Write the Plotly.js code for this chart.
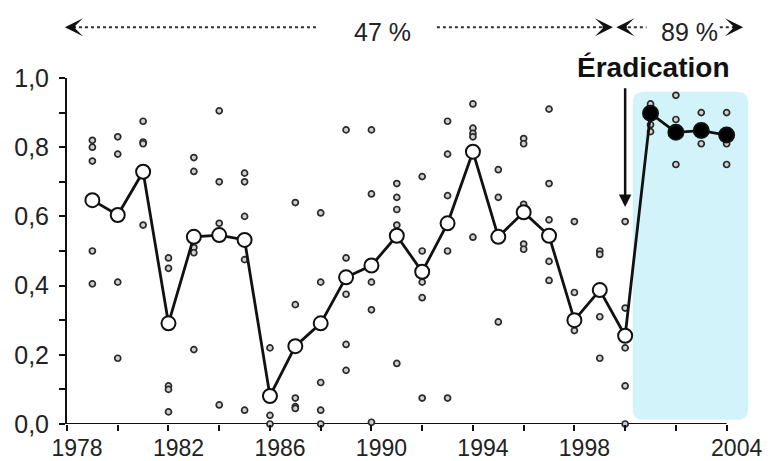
<!DOCTYPE html>
<html>
<head>
<meta charset="utf-8">
<script src="https://cdn.plot.ly/plotly-3.0.1.min.js"></script>
<style>html,body{margin:0;padding:0;background:#fff;}#chart{width:769px;height:461px;}</style>
</head>
<body>
<div id="chart"></div>
<script>
// ---- data ----
const years = [1979,1980,1981,1982,1983,1984,1985,1986,1987,1988,1989,1990,1991,1992,1993,1994,1995,1996,1997,1998,1999,2000,2001,2002,2003,2004];
const means = [0.647,0.604,0.729,0.291,0.541,0.546,0.532,0.081,0.225,0.291,0.424,0.458,0.544,0.440,0.580,0.787,0.541,0.612,0.544,0.300,0.387,0.255,0.898,0.843,0.848,0.835];
const observations = [
  [0.82,0.80,0.76,0.50,0.405],
  [0.83,0.78,0.41,0.19],
  [0.875,0.815,0.81,0.575],
  [0.48,0.45,0.11,0.10,0.035],
  [0.77,0.73,0.51,0.495,0.215],
  [0.905,0.70,0.58,0.055],
  [0.725,0.70,0.60,0.475,0.04],
  [0.22,0.025,0.0],
  [0.64,0.345,0.075,0.05,0.045],
  [0.61,0.41,0.12,0.04,0.0],
  [0.85,0.48,0.375,0.23,0.155],
  [0.85,0.665,0.41,0.33,0.005],
  [0.695,0.655,0.62,0.575,0.175],
  [0.715,0.50,0.41,0.365,0.075],
  [0.875,0.78,0.66,0.50,0.075],
  [0.925,0.855,0.84,0.83,0.54],
  [0.735,0.655,0.295],
  [0.825,0.81,0.635,0.52,0.505],
  [0.91,0.695,0.59,0.47,0.415],
  [0.585,0.38,0.27],
  [0.50,0.49,0.31,0.19],
  [0.585,0.335,0.22,0.11,0.0],
  [0.925,0.865,0.845],
  [0.95,0.88,0.75],
  [0.90,0.81],
  [0.90,0.81,0.75]
];
const eradicationYear = 2000;
const xTickVals = [1978,1980,1982,1984,1986,1988,1990,1992,1994,1996,1998,2000,2002,2004];
const xTickText = ['1978','','1982','','1986','','1990','','1994','','1998','','','2004'];
const yTickVals = [0,0.1,0.2,0.3,0.4,0.5,0.6,0.7,0.8,0.9,1.0];
const yTickText = ['0,0','','0,2','','0,4','','0,6','','0,8','','1,0'];
const beforeLabel = '47 %';
const afterLabel = '89 %';
const eventLabel = 'Éradication';

// ---- build traces ----
const obsX = [], obsY = [];
observations.forEach((vals, i) => vals.forEach(v => { obsX.push(years[i]); obsY.push(v); }));

const FONT = 'Liberation Sans, Arial, sans-serif';

const traces = [
  {
    x: obsX, y: obsY, type: 'scatter', mode: 'markers', cliponaxis: false,
    marker: {size: 6, opacity: 1, color: '#d0d0d0', line: {color: '#2a2a2a', width: 1.7}},
    hoverinfo: 'skip', showlegend: false
  },
  {
    x: years, y: means, type: 'scatter', mode: 'lines', cliponaxis: false,
    line: {color: '#111111', width: 2.8},
    hoverinfo: 'skip', showlegend: false
  },
  {
    x: years, y: means, type: 'scatter', mode: 'markers', cliponaxis: false,
    marker: {
      size: years.map(y => y > eradicationYear ? 15 : 14),
      opacity: 1,
      color: years.map(y => y > eradicationYear ? '#000000' : '#ffffff'),
      line: {color: '#111111', width: 2}
    },
    hoverinfo: 'skip', showlegend: false
  }
];

// rounded shaded region after eradication
const x0 = 2000.3, x1 = 2004.85, y0 = 0.012, y1 = 0.96, rx = 0.45, ry = 0.033;
const shadePath = `M ${x0+rx},${y0} L ${x1-rx},${y0} Q ${x1},${y0} ${x1},${y0+ry} L ${x1},${y1-ry} Q ${x1},${y1} ${x1-rx},${y1} L ${x0+rx},${y1} Q ${x0},${y1} ${x0},${y1-ry} L ${x0},${y0+ry} Q ${x0},${y0} ${x0+rx},${y0} Z`;

const arrowY = 1.147;
const dotLine = (xa, xb) => ({type: 'line', xref: 'paper', yref: 'paper', x0: xa, x1: xb, y0: arrowY, y1: arrowY,
  line: {color: '#333333', width: 2, dash: 'dot'}});
const head = (x, dir) => ({xref: 'paper', yref: 'paper', x: x, y: arrowY, ax: -dir*12, ay: 0, text: '',
  showarrow: true, arrowhead: 3, arrowsize: 1.5, arrowwidth: 2, arrowcolor: '#111'});
const label = (x, y, txt, size, color) => ({xref: 'paper', yref: 'paper', x: x, y: y, xanchor: 'center', yanchor: 'middle',
  text: txt, showarrow: false, font: {family: FONT, size: size, color: color}});

const layout = {
  width: 769, height: 461,
  margin: {l: 67, r: 16.5, t: 78, b: 37, pad: 0},
  paper_bgcolor: '#ffffff', plot_bgcolor: '#ffffff',
  font: {family: FONT, color: '#222222', size: 25},
  xaxis: {
    range: [1978, 2005], showgrid: false, zeroline: false, showline: false,
    tickvals: xTickVals, ticktext: xTickText, ticks: 'outside', ticklen: 6, tickwidth: 2, tickcolor: '#111',
    tickfont: {family: FONT, size: 23, color: '#222'}, ticklabelshift: 10, ticklabelstandoff: -3, fixedrange: true
  },
  yaxis: {
    range: [0, 1], showgrid: false, zeroline: false, showline: true, linecolor: '#111', linewidth: 2,
    tickvals: yTickVals, ticktext: yTickText, ticks: 'outside', ticklen: 6, tickwidth: 2, tickcolor: '#111',
    tickfont: {family: FONT, size: 25, color: '#222'}, ticklabelstandoff: 5, fixedrange: true
  },
  shapes: [
    {type: 'path', xref: 'x', yref: 'y', path: shadePath, fillcolor: '#d3f3fb', line: {width: 0}, layer: 'below'},
    {type: 'line', xref: 'x', yref: 'y', x0: 1978, x1: 2004, y0: 0, y1: 0, line: {color: '#111', width: 2}, layer: 'below'},
    dotLine(0.0, 0.365),
    dotLine(0.54, 0.79),
    dotLine(0.81, 0.846),
    dotLine(0.953, 0.978)
  ],
  annotations: [
    head(-0.003, -1),
    head(0.797, 1),
    head(0.802, -1),
    head(0.987, 1),
    label(0.461, 1.133, beforeLabel, 25, '#222'),
    label(0.909, 1.133, afterLabel, 25, '#222'),
    label(0.855, 1.029, '<b>' + eventLabel + '</b>', 28, '#111'),
    {xref: 'x', yref: 'y', axref: 'x', ayref: 'y', x: eradicationYear, y: 0.627, ax: eradicationYear, ay: 0.975,
      text: '', showarrow: true, arrowhead: 2, arrowsize: 1, arrowwidth: 2.5, arrowcolor: '#111'}
  ]
};

Plotly.newPlot('chart', traces, layout, {displayModeBar: false, staticPlot: true});
</script>
</body>
</html>
